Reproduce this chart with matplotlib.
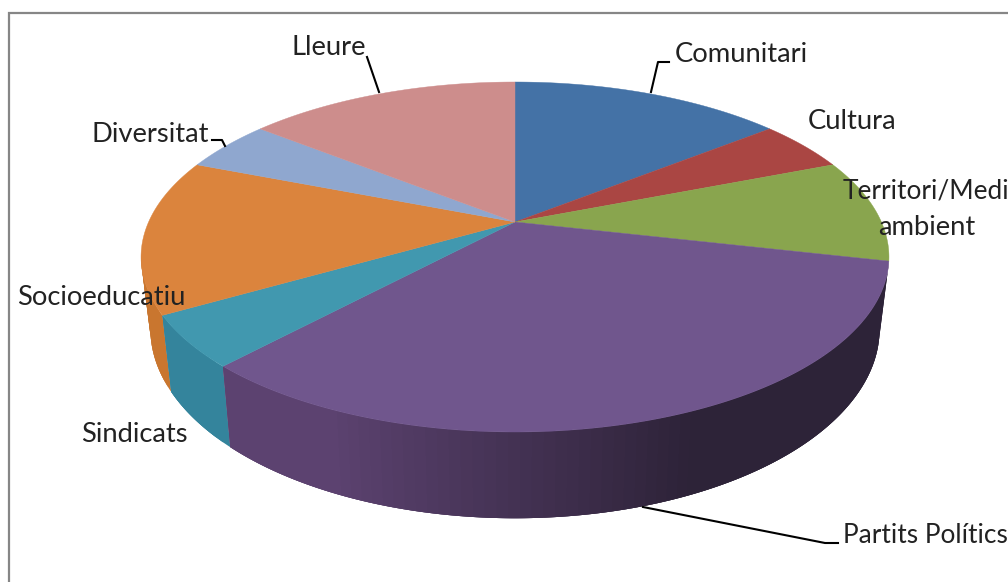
import numpy as np
import matplotlib
matplotlib.use("Agg")
import matplotlib.pyplot as plt

# Data
categories = ["Comunitari", "Cultura", "Territori/Medi\nambient", "Partits Polítics",
              "Sindicats", "Socioeducatiu", "Diversitat", "Lleure"]
values = [3, 1, 2, 7, 1, 3, 1, 3]
top_colors = ["#4472A6", "#AA4643", "#89A54E", "#70568D", "#4198AF", "#DB843D", "#8FA7CF", "#CD8D8C"]
side_start = ["#35587F", "#823533", "#6A7F3C", "#5C4270", "#34849C", "#C9762F", "#7486A8", "#A87574"]
side_end = ["#35587F", "#823533", "#6A7F3C", "#2D2338", "#32809A", "#C9762F", "#7486A8", "#A87574"]
label_sizes = [19.7, 19.7, 18.9, 18.9, 19.7, 19.7, 19.7, 19.7]

# Perspective geometry, in image pixels
CX, CY, A, B, K = 515.0, 222.0, 366.4, 168.0, 0.2
DEPTH, BOTTOM_SCALE = 69.0, 0.975


def top_point(t):
    u, v = np.sin(t), np.cos(t)
    w = 1 + K * v
    return CX + A * u / w, CY - B * v / w


def bottom_point(t):
    x, y = top_point(t)
    w = 1 + K * np.cos(t)
    return CX + (x - CX) * BOTTOM_SCALE, y + DEPTH / w


def hex2rgb(c):
    return np.array(matplotlib.colors.to_rgb(c))


fig = plt.figure(figsize=(10.08, 5.82), dpi=100, facecolor="white")
ax = fig.add_axes([0, 0, 1, 1])
ax.set_xlim(0, 1008)
ax.set_ylim(582, 0)
ax.axis("off")

# Frame (only left and top sides are visible)
ax.plot([9, 9, 1008], [582, 12.5, 12.5], color="#868686", lw=1.6, solid_joinstyle="miter", zorder=1)

fractions = np.cumsum([0] + values) / sum(values)
angles = 2 * np.pi * fractions

# Side wall: strips overlap the next one so no seams show
for i in range(len(values)):
    a0, a1 = angles[i], angles[i + 1]
    n = max(2, int((a1 - a0) / np.radians(1.5)))
    ts = np.linspace(a0, a1, n + 1)
    c0, c1 = hex2rgb(side_start[i]), hex2rgb(side_end[i])
    for j in range(n):
        if np.cos((ts[j] + ts[j + 1]) / 2) > -0.23:
            continue
        tt = np.linspace(ts[j], ts[min(j + 3, n)], 8)
        xt, yt = top_point(tt)
        xb, yb = bottom_point(tt)
        f = j / max(1, n - 1)
        col = c1 + (c0 - c1) * min(1.0, max(0.0, (f - 0.45) / 0.4)) if i == 3 else c0
        ax.fill(np.r_[xt, xb[::-1]], np.r_[yt, yb[::-1]], facecolor=col, edgecolor="none", zorder=2 + j * 1e-3)

# Top face
for i in range(len(values)):
    ts = np.linspace(angles[i], angles[i + 1], 200)
    x, y = top_point(ts)
    ax.fill(np.r_[CX, x], np.r_[CY, y], color=top_colors[i], lw=0.3, zorder=3)

# Leader lines
leaders = [
    ([651, 658, 669], [92, 62, 62]),
    ([379, 367], [92, 57]),
    ([212, 222, 225], [140, 140, 146]),
    ([643, 825, 838], [507, 543, 543]),
]
for lx, ly in leaders:
    ax.plot(lx, ly, color="black", lw=1.5, zorder=4)

# Labels
label_pos = [(675, 62), (808, 129), (843, 199), (843, 543),
             (81, 442), (17, 305), (92, 142), (291, 55)]
for name, (lx, ly), fs in zip(categories, label_pos, label_sizes):
    parts = name.split("\n")
    ax.text(lx, ly, parts[0], ha="left", va="baseline", fontsize=fs, family="Lato",
            color="#222222", zorder=5, clip_on=True)
    if len(parts) > 1:
        ax.text(927, ly + 36, parts[1], ha="center", va="baseline", fontsize=19.7, family="Lato",
                color="#222222", zorder=5, clip_on=True)

fig.savefig("out.png", dpi=100, facecolor="white")
